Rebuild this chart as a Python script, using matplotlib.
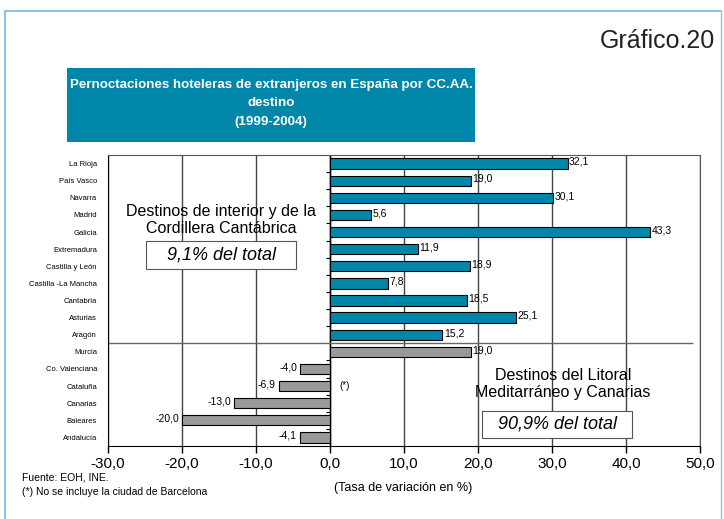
import matplotlib
matplotlib.use("Agg")
import matplotlib.pyplot as plt
from matplotlib.lines import Line2D
from matplotlib.patches import Rectangle

plt.rcParams['font.family'] = ['Liberation Sans', 'DejaVu Sans']

regiones = ['La Rioja', 'País Vasco', 'Navarra', 'Madrid', 'Galicia', 'Extremadura',
            'Castilla y León', 'Castilla -La Mancha', 'Cantabria', 'Asturias', 'Aragón',
            'Murcia', 'Co. Valenciana', 'Cataluña', 'Canarias', 'Baleares', 'Andalucía']
tasas = [32.1, 19.0, 30.1, 5.6, 43.3, 11.9, 18.9, 7.8, 18.5, 25.1, 15.2,
         19.0, -4.0, -6.9, -13.0, -20.0, -4.1]
n_interior = 11  # las primeras 11 son destinos de interior

teal = '#0086a9'
gris = '#999999'

fig = plt.figure(figsize=(7.24, 5.19), dpi=100)
ax = fig.add_axes([108/724, 1 - 446/519, 592/724, 291/519])

colores = [teal if i < n_interior else gris for i in range(len(regiones))]
ypos = list(range(len(regiones)))
ax.barh(ypos, tasas, height=0.6, color=colores, edgecolor='black', linewidth=0.8, zorder=3)

for y, v in zip(ypos, tasas):
    txt = f'{v:.1f}'.replace('.', ',')
    if v >= 0:
        ax.text(v + 0.2, y - 0.1, txt, ha='left', va='center', fontsize=7.5, zorder=4)
    else:
        ax.text(v - 0.4, y - 0.1, txt, ha='right', va='center', fontsize=7.5, zorder=4)

ax.set_xlim(-30, 50)
ax.set_ylim(16.5, -0.5)
ax.set_xticks(range(-30, 51, 10))
ax.set_xticklabels([f'{x:.1f}'.replace('.', ',') for x in range(-30, 51, 10)], fontsize=11)
ax.set_yticks(ypos)
ax.set_yticklabels(regiones, fontsize=5.5)
ax.tick_params(axis='y', length=0, pad=8)
ax.tick_params(axis='x', length=5, width=1, pad=3)
ax.grid(axis='x', color='#444444', linewidth=1, zorder=0)
ax.axvline(0, color='black', linewidth=1, zorder=2)
# pequeñas marcas sobre el eje del cero
ax.hlines([i + 0.5 for i in range(len(regiones) - 1)], -0.6, 0, color='black', linewidth=0.8, zorder=2)
ax.hlines(n_interior - 0.5, -30, 49, color='#666666', linewidth=1, zorder=2)
for s in ax.spines.values():
    s.set_color('#555555')
ax.spines['left'].set_color('black')
ax.spines['bottom'].set_color('black')

caja = dict(boxstyle='square,pad=0.3', facecolor='white', edgecolor='#555555', linewidth=0.8)
ax.text(-14.7, 3.3, 'Destinos de interior y de la\nCordillera Cantábrica', ha='center', va='center',
        fontsize=11.5, linespacing=1.15, zorder=5)
ax.text(-14.7, 5.34, '   9,1% del total   ', ha='center', va='center', fontsize=13, style='italic',
        zorder=5, bbox=caja)
ax.text(31.5, 12.9, 'Destinos del Litoral\nMeditarráneo y Canarias', ha='center', va='center',
        fontsize=11.5, linespacing=1.15, zorder=5)
ax.text(30.7, 15.24, '  90,9% del total  ', ha='center', va='center', fontsize=13, style='italic',
        zorder=5, bbox=caja)
ax.text(1.3, 13.0, '(*)', ha='left', va='center', fontsize=7, zorder=5)

# cabecera
fig.text(715/724, 1 - 41/519, 'Gráfico.20', ha='right', va='center', fontsize=18, color='#222222')
fig.add_artist(Rectangle((67/724, 1 - 142/519), 408/724, 74/519, transform=fig.transFigure,
                         facecolor=teal, edgecolor='none'))
fig.text(271/724, 1 - 103.5/519, 'Pernoctaciones hoteleras de extranjeros en España por CC.AA.\ndestino\n(1999-2004)',
         ha='center', va='center', fontsize=9.6, fontweight='bold', color='white', linespacing=1.72)

# pie
fig.text(22/724, 1 - 478/519, 'Fuente: EOH, INE.', ha='left', va='center', fontsize=7.5)
fig.text(22/724, 1 - 492/519, '(*) No se incluye la ciudad de Barcelona', ha='left', va='center', fontsize=7.5)
fig.text(403/724, 1 - 488/519, '(Tasa de variación en %)', ha='center', va='center', fontsize=9)

# marco exterior
marco = '#8ec5de'
fig.add_artist(Line2D([5/724, 721/724], [1 - 11/519, 1 - 11/519], transform=fig.transFigure, color=marco, lw=1.5))
fig.add_artist(Line2D([5/724, 5/724], [0, 1 - 11/519], transform=fig.transFigure, color=marco, lw=1.5))
fig.add_artist(Line2D([721/724, 721/724], [0, 1 - 11/519], transform=fig.transFigure, color=marco, lw=1))

fig.savefig('out.png', dpi=100)
